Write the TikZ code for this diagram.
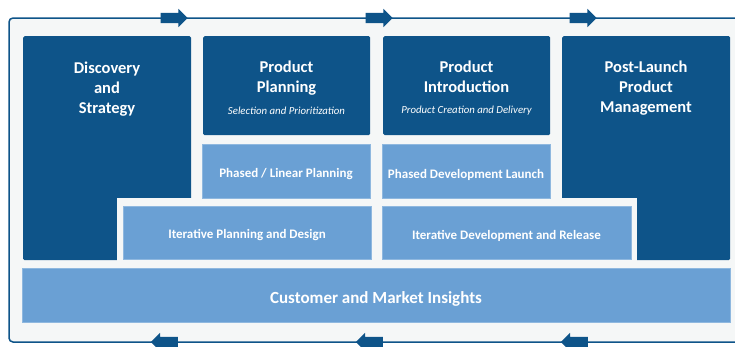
\documentclass[tikz,border=0pt]{standalone}
\usepackage{fontspec}
\setmainfont{Carlito}
\usetikzlibrary{shapes.arrows}
\definecolor{darkblue}{RGB}{14,84,137}
\definecolor{lightblue}{RGB}{106,160,212}
\definecolor{panelgray}{RGB}{245,247,247}

\begin{document}
\begin{tikzpicture}[x = 1pt, y = -1pt]
\tikzstyle{DarkStyle}=[
fill = darkblue,
rounded corners = 1.5pt,
inner sep = 0pt,
anchor = north west]
\tikzstyle{LightStyle}=[
fill = lightblue,
draw = lightblue!75!white,
line width = 0.5pt,
inner sep = 0pt,
anchor = north west]
\tikzstyle{TitleStyle}=[
text = white,
align = center,
inner sep = 0pt,
font = \bfseries\fontsize{16.5}{20}\selectfont]
\tikzstyle{SubStyle}=[
text = white,
inner sep = 0pt,
font = \itshape\fontsize{10.8}{12}\selectfont]
\tikzstyle{BarStyle}=[
text = white,
inner sep = 0pt,
font = \bfseries\fontsize{13}{15}\selectfont]
\tikzstyle{FlowStyle}=[
single arrow,
fill = darkblue,
inner sep = 0pt,
inner ysep = 5pt,
minimum height = 27pt,
single arrow head extend = 4pt]
\useasboundingbox (0,0) rectangle (735,346);
\clip (0,0) rectangle (735,346);
\fill[white] (0,0) rectangle (735,346);
% frame
\filldraw[fill = panelgray, draw = darkblue, line width = 1.5pt, rounded corners = 4pt]
  (760,18) -- (9,18) -- (9,342) -- (760,342);
\node[FlowStyle] (a1) at (171.5,18) {};
\node[FlowStyle] (a2) at (376.5,18) {};
\node[FlowStyle] (a3) at (580.5,18) {};
\node[FlowStyle, shape border rotate = 180] (b1) at (167,342) {};
\node[FlowStyle, shape border rotate = 180] (b2) at (372,342) {};
\node[FlowStyle, shape border rotate = 180] (b3) at (577,342) {};
% phases
\node[DarkStyle, minimum width = 168pt, minimum height = 224pt] (v1) at (23,36) {};
\node[DarkStyle, minimum width = 168pt, minimum height = 224pt] (v4) at (562,36) {};
\fill[panelgray] (117,198) rectangle (637,266);
\node[DarkStyle, minimum width = 167pt, minimum height = 99pt] (v2) at (203,36) {};
\node[DarkStyle, minimum width = 167pt, minimum height = 99pt] (v3) at (383,36) {};
\node[LightStyle, minimum width = 168pt, minimum height = 54pt] (p1) at (202,144) {};
\node[LightStyle, minimum width = 168pt, minimum height = 54pt] (p2) at (382,144) {};
\node[LightStyle, minimum width = 248pt, minimum height = 53pt] (i1) at (123,206) {};
\node[LightStyle, minimum width = 249pt, minimum height = 53pt] (i2) at (382,206) {};
\node[LightStyle, minimum width = 708pt, minimum height = 54pt] (c1) at (22,268) {};
% labels
\node[TitleStyle] (t1) at (107,89.5) {Discovery\\and\\Strategy};
\node[TitleStyle] (t2) at (286.5,78.5) {Product\\Planning};
\node[TitleStyle] (t3) at (466.5,76.5) {Product\\Introduction};
\node[TitleStyle] (t4) at (646,88.5) {Post-Launch\\Product\\Management};
\node[SubStyle] (s2) at (286.5,111) {Selection and Prioritization};
\node[SubStyle] (s3) at (466.5,111) {Product Creation and Delivery};
\node[BarStyle] (l1) at (286,174.5) {Phased / Linear Planning};
\node[BarStyle] (l2) at (466,174.5) {Phased Development Launch};
\node[BarStyle] (l3) at (247,235.5) {Iterative Planning and Design};
\node[BarStyle] (l4) at (506.5,235.5) {Iterative Development and Release};
\node[TitleStyle, font = \bfseries\fontsize{17}{20}\selectfont] (l5) at (376,298.5) {Customer and Market Insights};
\end{tikzpicture}
\end{document}
